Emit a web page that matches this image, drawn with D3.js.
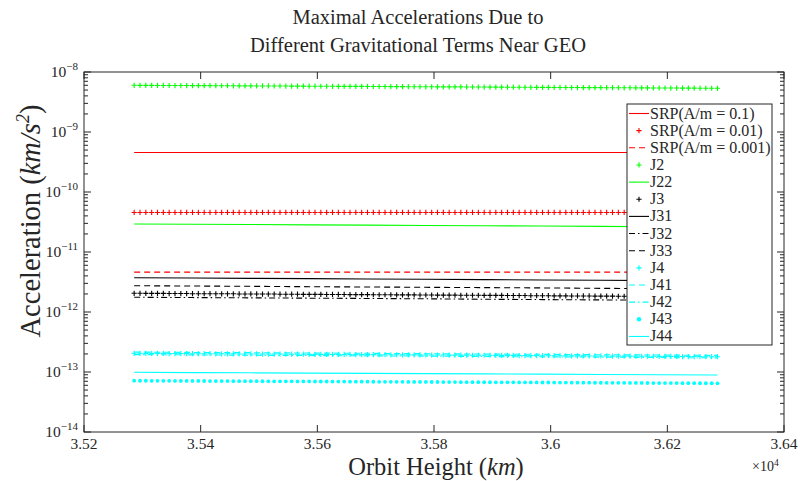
<!DOCTYPE html>
<html><head><meta charset="utf-8">
<script src="https://cdn.jsdelivr.net/npm/d3@7/dist/d3.min.js"></script>
<style>
body{margin:0;background:#fff}
svg{display:block}
text{font-family:"Liberation Serif","DejaVu Serif",serif;fill:#262626}
</style>
</head><body>
<svg id="chart" width="800" height="481"></svg>
<script>
// ---------------- DATA ----------------
// orbit heights (km), fine sampling used by marker series
const heightsFine = [
35286,35296,35306,35316,35326,35336,35346,35356,35366,35376,
35386,35396,35406,35416,35426,35436,35446,35456,35466,35476,
35486,35496,35506,35516,35526,35536,35546,35556,35566,35576,
35586,35596,35606,35616,35626,35636,35646,35656,35666,35676,
35686,35696,35706,35716,35726,35736,35746,35756,35766,35776,
35786,35796,35806,35816,35826,35836,35846,35856,35866,35876,
35886,35896,35906,35916,35926,35936,35946,35956,35966,35976,
35986,35996,36006,36016,36026,36036,36046,36056,36066,36076,
36086,36096,36106,36116,36126,36136,36146,36156,36166,36176,
36186,36196,36206,36216,36226,36236,36246,36256,36266,36276,
36286];
// coarse sampling used by line series
const heightsCoarse = [35286,35386,35486,35586,35686,35786,35886,35986,36086,36186,36286];

// values given as mantissas; multiply by the named scale
const srp01 = [4.56,4.56,4.56,4.56,4.56,4.56,4.56,4.56,4.56,4.56,4.56];            // x1e-10
const SRP01_SCALE = 1e-10;
const srp001 = [
4.56,4.56,4.56,4.56,4.56,4.56,4.56,4.56,4.56,4.56,
4.56,4.56,4.56,4.56,4.56,4.56,4.56,4.56,4.56,4.56,
4.56,4.56,4.56,4.56,4.56,4.56,4.56,4.56,4.56,4.56,
4.56,4.56,4.56,4.56,4.56,4.56,4.56,4.56,4.56,4.56,
4.56,4.56,4.56,4.56,4.56,4.56,4.56,4.56,4.56,4.56,
4.56,4.56,4.56,4.56,4.56,4.56,4.56,4.56,4.56,4.56,
4.56,4.56,4.56,4.56,4.56,4.56,4.56,4.56,4.56,4.56,
4.56,4.56,4.56,4.56,4.56,4.56,4.56,4.56,4.56,4.56,
4.56,4.56,4.56,4.56,4.56,4.56,4.56,4.56,4.56,4.56,
4.56,4.56,4.56,4.56,4.56,4.56,4.56,4.56,4.56,4.56,
4.56];                                                                               // x1e-11
const SRP001_SCALE = 1e-11;
const srp0001 = [4.62,4.62,4.62,4.62,4.62,4.62,4.62,4.62,4.62,4.62,4.62];           // x1e-12
const SRP0001_SCALE = 1e-12;
const j2 = [
6.00,5.99,5.99,5.98,5.97,5.97,5.96,5.95,5.95,5.94,
5.93,5.93,5.92,5.92,5.91,5.90,5.90,5.89,5.88,5.88,
5.87,5.86,5.86,5.85,5.84,5.84,5.83,5.82,5.82,5.81,
5.80,5.80,5.79,5.79,5.78,5.77,5.77,5.76,5.75,5.75,
5.74,5.73,5.73,5.72,5.71,5.71,5.70,5.69,5.69,5.68,
5.67,5.67,5.66,5.66,5.65,5.64,5.64,5.63,5.62,5.62,
5.61,5.60,5.60,5.59,5.58,5.58,5.57,5.56,5.56,5.55,
5.55,5.54,5.53,5.53,5.52,5.51,5.51,5.50,5.49,5.49,
5.48,5.47,5.47,5.46,5.45,5.45,5.44,5.43,5.43,5.42,
5.41,5.41,5.40,5.40,5.39,5.38,5.38,5.37,5.36,5.36,
5.35];                                                                               // x1e-9
const J2_SCALE = 1e-9;
const j22 = [2.93,2.90,2.87,2.83,2.80,2.77,2.74,2.71,2.67,2.64,2.61];                 // x1e-11
const J22_SCALE = 1e-11;
const j3 = [
2.05,2.05,2.04,2.04,2.04,2.04,2.03,2.03,2.03,2.03,
2.02,2.02,2.02,2.02,2.01,2.01,2.01,2.01,2.00,2.00,
2.00,2.00,1.99,1.99,1.99,1.98,1.98,1.98,1.98,1.97,
1.97,1.97,1.97,1.96,1.96,1.96,1.96,1.95,1.95,1.95,
1.95,1.94,1.94,1.94,1.94,1.93,1.93,1.93,1.93,1.92,
1.92,1.92,1.91,1.91,1.91,1.91,1.90,1.90,1.90,1.90,
1.89,1.89,1.89,1.89,1.88,1.88,1.88,1.88,1.87,1.87,
1.87,1.87,1.86,1.86,1.86,1.85,1.85,1.85,1.85,1.84,
1.84,1.84,1.84,1.83,1.83,1.83,1.83,1.82,1.82,1.82,
1.82,1.81,1.81,1.81,1.81,1.80,1.80,1.80,1.80,1.79,
1.79];                                                                               // x1e-12
const J3_SCALE = 1e-12;
const j31 = [3.73,3.69,3.64,3.60,3.55,3.51,3.47,3.42,3.38,3.33,3.29];                 // x1e-12
const j32 = [1.76,1.74,1.72,1.70,1.68,1.66,1.63,1.61,1.59,1.57,1.55];                 // x1e-12
const j33 = [2.74,2.71,2.68,2.64,2.61,2.58,2.55,2.52,2.48,2.45,2.42];                 // x1e-12
const j4 = [
2.05,2.05,2.04,2.04,2.04,2.04,2.03,2.03,2.03,2.03,
2.02,2.02,2.02,2.02,2.01,2.01,2.01,2.01,2.00,2.00,
2.00,2.00,1.99,1.99,1.99,1.99,1.98,1.98,1.98,1.98,
1.97,1.97,1.97,1.97,1.96,1.96,1.96,1.96,1.95,1.95,
1.95,1.95,1.94,1.94,1.94,1.94,1.93,1.93,1.93,1.93,
1.92,1.92,1.92,1.92,1.91,1.91,1.91,1.91,1.90,1.90,
1.90,1.90,1.89,1.89,1.89,1.89,1.88,1.88,1.88,1.88,
1.87,1.87,1.87,1.87,1.86,1.86,1.86,1.86,1.85,1.85,
1.85,1.85,1.84,1.84,1.84,1.84,1.83,1.83,1.83,1.83,
1.82,1.82,1.82,1.82,1.81,1.81,1.81,1.81,1.80,1.80,
1.80];                                                                               // x1e-13
const J4_SCALE = 1e-13;
const j41 = [2.15,2.12,2.10,2.07,2.05,2.02,1.99,1.97,1.94,1.92,1.89];                 // x1e-13
const j42 = [1.95,1.93,1.90,1.88,1.86,1.84,1.81,1.79,1.77,1.74,1.72];                 // x1e-13
const j43 = [
7.16,7.15,7.15,7.14,7.13,7.13,7.12,7.11,7.11,7.10,
7.09,7.09,7.08,7.07,7.06,7.06,7.05,7.04,7.04,7.03,
7.02,7.02,7.01,7.00,7.00,6.99,6.98,6.98,6.97,6.96,
6.96,6.95,6.94,6.94,6.93,6.92,6.92,6.91,6.90,6.89,
6.89,6.88,6.87,6.87,6.86,6.85,6.85,6.84,6.83,6.83,
6.82,6.81,6.81,6.80,6.79,6.79,6.78,6.77,6.77,6.76,
6.75,6.75,6.74,6.73,6.72,6.72,6.71,6.70,6.70,6.69,
6.68,6.68,6.67,6.66,6.66,6.65,6.64,6.64,6.63,6.62,
6.62,6.61,6.60,6.60,6.59,6.58,6.58,6.57,6.56,6.55,
6.55,6.54,6.53,6.53,6.52,6.51,6.51,6.50,6.49,6.49,
6.48];                                                                               // x1e-14
const J43_SCALE = 1e-14;
const j44 = [9.88,9.78,9.69,9.59,9.49,9.40,9.30,9.20,9.10,9.01,8.91];                 // x1e-14
const J44_SCALE = 1e-14;

const seriesNames = ["SRP(A/m = 0.1)","SRP(A/m = 0.01)","SRP(A/m = 0.001)","J2","J22","J3","J31","J32","J33","J4","J41","J42","J43","J44"];
const xTicks = [35200,35400,35600,35800,36000,36200,36400];
const yTickExponents = [-14,-13,-12,-11,-10,-9,-8];

// ---------------- CHART ----------------
const svg = d3.select("#chart");
const L = 84, R = 784, T = 72, B = 432;
const AX = "#262626";

const x = d3.scaleLinear().domain([35200, 36400]).range([L, R]);
const y = d3.scaleLog().domain([1e-14, 1e-8]).range([B, T]);

const RED = "#ff0000", GREEN = "#00ff00", BLACK = "#000000", CYAN = "#00ffff";
const DASH = "6,4", DASHDOT = "6,3,1.5,3";
const specs = [
  {x: heightsCoarse, v: srp01,  s: SRP01_SCALE,  color: RED,   kind: "line", dash: null},
  {x: heightsFine,   v: srp001, s: SRP001_SCALE, color: RED,   kind: "plus"},
  {x: heightsCoarse, v: srp0001,s: SRP0001_SCALE,color: RED,   kind: "line", dash: DASH},
  {x: heightsFine,   v: j2,     s: J2_SCALE,     color: GREEN, kind: "plus"},
  {x: heightsCoarse, v: j22,    s: J22_SCALE,    color: GREEN, kind: "line", dash: null},
  {x: heightsFine,   v: j3,     s: J3_SCALE,     color: BLACK, kind: "plus"},
  {x: heightsCoarse, v: j31,    s: J3_SCALE,     color: BLACK, kind: "line", dash: null},
  {x: heightsCoarse, v: j32,    s: J3_SCALE,     color: BLACK, kind: "line", dash: DASHDOT},
  {x: heightsCoarse, v: j33,    s: J3_SCALE,     color: BLACK, kind: "line", dash: DASH},
  {x: heightsFine,   v: j4,     s: J4_SCALE,     color: CYAN,  kind: "plus"},
  {x: heightsCoarse, v: j41,    s: J4_SCALE,     color: CYAN,  kind: "line", dash: DASH},
  {x: heightsCoarse, v: j42,    s: J4_SCALE,     color: CYAN,  kind: "line", dash: DASHDOT},
  {x: heightsFine,   v: j43,    s: J43_SCALE,    color: CYAN,  kind: "dot"},
  {x: heightsCoarse, v: j44,    s: J44_SCALE,    color: CYAN,  kind: "line", dash: null}
];
const series = specs.map((sp, i) => ({
  name: seriesNames[i], color: sp.color, kind: sp.kind, dash: sp.dash,
  points: sp.x.map((h, k) => ({h: h, a: sp.v[k] * sp.s}))
}));

// background
svg.append("rect").attr("width", 800).attr("height", 481).attr("fill", "#fff");

// data
const plotG = svg.append("g");
const lineGen = d3.line().x(d => x(d.h)).y(d => y(d.a));
const PS = 2.6; // plus half-size
series.forEach(s => {
  if (s.kind === "line") {
    plotG.append("path").attr("d", lineGen(s.points)).attr("fill", "none")
      .attr("stroke", s.color).attr("stroke-width", 1.1)
      .attr("stroke-dasharray", s.dash);
  } else if (s.kind === "plus") {
    const g = plotG.append("g").attr("stroke", s.color).attr("stroke-width", 1.1);
    g.selectAll("path").data(s.points).join("path")
      .attr("d", d => { const cx = x(d.h), cy = y(d.a);
        return `M${cx-PS},${cy}H${cx+PS}M${cx},${cy-PS}V${cy+PS}`; });
  } else if (s.kind === "dot") {
    plotG.append("g").attr("fill", s.color).selectAll("circle").data(s.points).join("circle")
      .attr("cx", d => x(d.h)).attr("cy", d => y(d.a)).attr("r", 1.9);
  }
});

// axes box & ticks
const axG = svg.append("g").attr("stroke", AX).attr("stroke-width", 1);
axG.append("rect").attr("x", L).attr("y", T).attr("width", R - L).attr("height", B - T).attr("fill", "none");
const MAJ = 7, MIN = 4;
xTicks.forEach(t => {
  const px = x(t);
  axG.append("line").attr("x1", px).attr("x2", px).attr("y1", B).attr("y2", B - MAJ);
  axG.append("line").attr("x1", px).attr("x2", px).attr("y1", T).attr("y2", T + MAJ);
});
yTickExponents.forEach(e => {
  const py = y(Math.pow(10, e));
  axG.append("line").attr("x1", L).attr("x2", L + MAJ).attr("y1", py).attr("y2", py);
  axG.append("line").attr("x1", R).attr("x2", R - MAJ).attr("y1", py).attr("y2", py);
  if (e < -8) {
    for (let k = 2; k <= 9; k++) {
      const pm = y(k * Math.pow(10, e));
      axG.append("line").attr("x1", L).attr("x2", L + MIN).attr("y1", pm).attr("y2", pm);
      axG.append("line").attr("x1", R).attr("x2", R - MIN).attr("y1", pm).attr("y2", pm);
    }
  }
});

// tick labels
const fmtX = d => String(+(d / 1e4).toFixed(2));
xTicks.forEach(t => {
  svg.append("text").attr("x", x(t)).attr("y", 449).attr("text-anchor", "middle")
    .attr("font-size", 15.5).text(fmtX(t));
});
yTickExponents.forEach(e => {
  const tx = svg.append("text").attr("x", 78).attr("y", y(Math.pow(10, e)) + 5)
    .attr("text-anchor", "end").attr("font-size", 15.5);
  tx.append("tspan").text("10");
  tx.append("tspan").attr("dy", -7).attr("font-size", 11).text("\u2212" + Math.abs(e));
});
// x10^4 multiplier
const mult = svg.append("text").attr("x", 752).attr("y", 471).attr("font-size", 14);
mult.append("tspan").text("\u00d710");
mult.append("tspan").attr("dy", -5).attr("font-size", 9.5).text("4");

// axis labels
const xl = svg.append("text").attr("x", 436).attr("y", 474.5).attr("text-anchor", "middle").attr("font-size", 24.5);
xl.append("tspan").text("Orbit Height (");
xl.append("tspan").attr("font-style", "italic").text("km");
xl.append("tspan").text(")");

const yl = svg.append("text").attr("transform", "translate(40,221) rotate(-90)")
  .attr("text-anchor", "middle").attr("font-size", 28.5);
yl.append("tspan").text("Acceleration (");
yl.append("tspan").attr("font-style", "italic").text("km/s");
yl.append("tspan").attr("font-style", "italic").attr("font-size", 18).attr("dy", -11).text("2");
yl.append("tspan").attr("dy", 11).text(")");

// title
svg.append("text").attr("x", 418).attr("y", 24).attr("text-anchor", "middle").attr("font-size", 20.5)
  .text("Maximal Accelerations Due to");
svg.append("text").attr("x", 418).attr("y", 52).attr("text-anchor", "middle").attr("font-size", 20.5)
  .text("Different Gravitational Terms Near GEO");

// legend
const LX = 627, LY = 104, LW = 145, LH = 241, STEP = 17.15;
const lg = svg.append("g");
lg.append("rect").attr("x", LX).attr("y", LY).attr("width", LW).attr("height", LH)
  .attr("fill", "#fff").attr("stroke", AX).attr("stroke-width", 1);
series.forEach((s, i) => {
  const cy = LY + 9.5 + i * STEP;
  if (s.kind === "line") {
    lg.append("line").attr("x1", LX + 2).attr("x2", LX + 22).attr("y1", cy).attr("y2", cy)
      .attr("stroke", s.color).attr("stroke-width", 1.1).attr("stroke-dasharray", s.dash);
  } else if (s.kind === "plus") {
    const cx = LX + 12;
    lg.append("path").attr("d", `M${cx-PS},${cy}H${cx+PS}M${cx},${cy-PS}V${cy+PS}`)
      .attr("stroke", s.color).attr("stroke-width", 1.1);
  } else {
    lg.append("circle").attr("cx", LX + 12).attr("cy", cy).attr("r", 2.2).attr("fill", s.color);
  }
  lg.append("text").attr("x", LX + 23).attr("y", cy + 5).attr("font-size", 16).text(s.name);
});
</script>
</body></html>
